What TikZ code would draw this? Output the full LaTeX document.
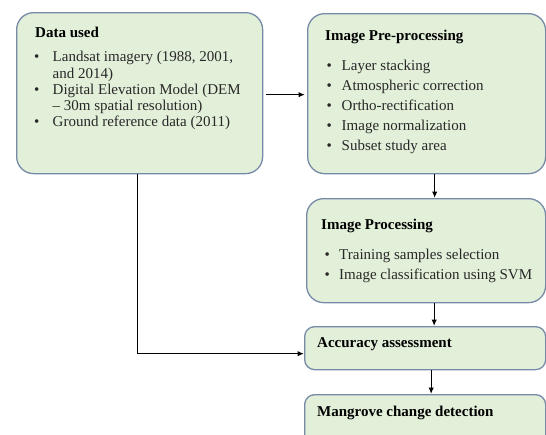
\documentclass[tikz,border=0pt]{standalone}
\usepackage{fontspec}
\setmainfont{Liberation Serif}
\usetikzlibrary{positioning,arrows.meta}

\definecolor{boxfill}{RGB}{226,239,217}
\definecolor{boxline}{RGB}{118,138,168}
\definecolor{itemtext}{RGB}{40,40,40}

\newlength\bulw
\newcommand\itm[1]{\strut\makebox[\bulw][l]{\textbullet}#1}
\newcommand\cnt[1]{\strut\hspace*{\bulw}#1}

\begin{document}
\begin{tikzpicture}[
x=1pt, y=-1pt,
box/.style={rectangle, draw=boxline, fill=boxfill, line width=1.3pt, rounded corners=17pt, inner sep=0pt, anchor=north west},
smallbox/.style={box, rounded corners=10pt},
head/.style={anchor=base west, inner sep=0pt, font=\fontsize{15}{18}\selectfont\bfseries},
list/.style={anchor=north west, inner sep=0pt, align=left, text=itemtext},
arr/.style={-{Latex[length=6.5pt,width=5.5pt]}, line width=1.3pt}
]

\useasboundingbox (0,0) rectangle (546,434);
\clip (0,0) rectangle (546,434);

\node[box, minimum width=246pt, minimum height=161pt] (data) at (16,12) {};
\node[box, minimum width=238pt, minimum height=160pt] (pre) at (307,13) {};
\node[box, minimum width=239pt, minimum height=104pt] (proc) at (306,198) {};
\node[smallbox, minimum width=241pt, minimum height=43pt] (acc) at (304,326) {};
\node[smallbox, minimum width=241pt, minimum height=80pt] (chg) at (304,394) {};

\node[head] (datah) at (35,37.5) {Data used};
\node[list, font=\fontsize{15}{16.3}\selectfont\setlength\bulw{18.5pt}] (datal) at (34,50.1)
  {\itm{Landsat imagery (1988, 2001,}\\ \cnt{and 2014)}\\
   \itm{Digital Elevation Model (DEM}\\ \cnt{– 30m spatial resolution)}\\
   \itm{Ground reference data (2011)}};

\node[head] (preh) at (325,40.5) {Image Pre-processing};
\node[list, font=\fontsize{15}{20}\selectfont\setlength\bulw{15pt}] (prel) at (326.5,56.5)
  {\itm{Layer stacking}\\ \itm{Atmospheric correction}\\ \itm{Ortho-rectification}\\
   \itm{Image normalization}\\ \itm{Subset study area}};

\node[head] (proch) at (321,229) {Image Processing};
\node[list, font=\fontsize{15}{20.5}\selectfont\setlength\bulw{14.5pt}] (procl) at (324.5,244.6)
  {\itm{Training samples selection}\\ \itm{Image classification using SVM}};

\node[head] (acch) at (317,347.5) {Accuracy assessment};
\node[head] (chgh) at (317,416) {Mangrove change detection};

\draw[arr, shorten <=3pt, shorten >=2pt] ([yshift=-1.5pt]data.east) -- ([yshift=-1.5pt]data.east -| pre.west);
\draw[arr] ([xshift=8pt]pre.south) -- ([xshift=8pt]pre.south |- proc.north);
\draw[arr] ([xshift=8pt]proc.south) -- ([xshift=8pt]proc.south |- acc.north);
\draw[arr] ([xshift=6pt]acc.south) -- ([xshift=6pt]acc.south |- chg.north);
\draw[arr] ([xshift=-2pt]data.south) |- ([yshift=-5.5pt]acc.west);

\end{tikzpicture}
\end{document}
